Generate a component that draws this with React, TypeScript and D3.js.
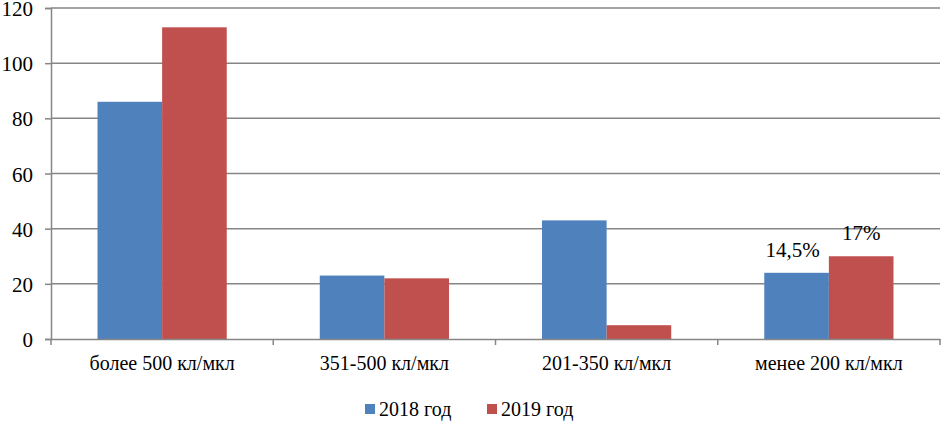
import { useEffect, useRef } from 'react';
import * as d3 from 'd3';

const categories = ['более 500 кл/мкл', '351-500 кл/мкл', '201-350 кл/мкл', 'менее 200 кл/мкл'];
const seriesNames = ['2018 год', '2019 год'];
const values2018 = [86, 23, 43, 24];
const values2019 = [113, 22, 5, 30];
const yTicks = [0, 20, 40, 60, 80, 100, 120];
const labels2018 = ['', '', '', '14,5%'];
const labels2019 = ['', '', '', '17%'];
const colors = ['#4F81BD', '#C0504D'];

export default function App() {
	const ref = useRef<SVGSVGElement | null>(null);

	useEffect(() => {
		if (!ref.current) return;
		const svg = d3.select(ref.current);
		svg.selectAll('*').remove();

		const margin = { top: 8, right: 1, bottom: 83, left: 51 };
		const width = 941 - margin.left - margin.right;
		const height = 422 - margin.top - margin.bottom;
		const font = "'Times New Roman', 'Liberation Serif', Tinos, 'DejaVu Serif', 'Noto Serif', serif";

		const g = svg.append('g').attr('transform', `translate(${margin.left},${margin.top})`);

		const x0 = d3.scaleBand().domain(categories).range([0, width]).paddingInner(0).paddingOuter(0);
		const x1 = d3.scaleBand().domain(seriesNames).range([0, x0.bandwidth()]).paddingInner(0).paddingOuter(0.72);
		const y = d3.scaleLinear().domain([0, 120]).range([height, 0]);

		// grid
		g.selectAll('line.grid')
			.data(yTicks.slice(1))
			.enter()
			.append('line')
			.attr('x1', 0)
			.attr('x2', width)
			.attr('y1', d => y(d))
			.attr('y2', d => y(d))
			.attr('stroke', '#868686')
			.attr('stroke-width', 1.5);

		const yAxis = g.append('g').call(d3.axisLeft(y).tickValues(yTicks).tickSize(6).tickPadding(12));
		yAxis.attr('font-family', null);
		yAxis.selectAll('path, line').attr('stroke', '#868686').attr('stroke-width', 1.5);
		yAxis.selectAll('text').attr('fill', '#000').attr('font-size', 21).attr('dy', '0.36em');

		const series = [values2018, values2019];
		const labels = [labels2018, labels2019];

		categories.forEach((c, i) => {
			series.forEach((vals, s) => {
				const bx = (x0(c) ?? 0) + (x1(seriesNames[s]) ?? 0);
				g.append('rect')
					.attr('x', bx)
					.attr('y', y(vals[i]))
					.attr('width', x1.bandwidth())
					.attr('height', height - y(vals[i]))
					.attr('fill', colors[s]);
				if (labels[s][i]) {
					g.append('text')
						.attr('x', bx + x1.bandwidth() / 2 - (s === 0 ? 4 : 0))
						.attr('y', y(vals[i]) - 16)
						.attr('text-anchor', 'middle')
						.attr('font-size', 21)
						.text(labels[s][i]);
				}
			});
		});

		const xAxis = g
			.append('g')
			.attr('transform', `translate(0,${height})`)
			.call(d3.axisBottom(x0).tickSize(0).tickPadding(17));
		xAxis.attr('font-family', null);
		xAxis.select('path').attr('stroke', '#868686').attr('stroke-width', 1.5);
		xAxis.selectAll('text').attr('fill', '#000').attr('font-size', 20);
		g.selectAll('line.xtick')
			.data(d3.range(categories.length + 1))
			.enter()
			.append('line')
			.attr('x1', d => d * x0.bandwidth())
			.attr('x2', d => d * x0.bandwidth())
			.attr('y1', height)
			.attr('y2', height + 6)
			.attr('stroke', '#868686')
			.attr('stroke-width', 1.5);

		// legend
		const legend = svg.append('g').attr('transform', 'translate(365,410)');
		const offsets = [0, 122];
		seriesNames.forEach((n, i) => {
			legend.append('rect').attr('x', offsets[i]).attr('y', -6).attr('width', 10).attr('height', 10).attr('fill', colors[i]);
			legend.append('text')
				.attr('x', offsets[i] + 14)
				.attr('y', 6)
				.attr('font-size', 20)
				.text(n);
		});

		svg.style('font-family', font);
	}, []);

	return <svg ref={ref} width={941} height={422} style={{ position: 'absolute', left: 0, top: 0, background: '#fff' }} />;
}
